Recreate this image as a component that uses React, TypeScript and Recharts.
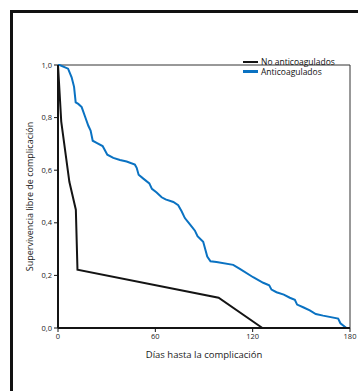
import { LineChart, Line, XAxis, YAxis, ReferenceLine, Legend } from "recharts";

const BLACK = "#141414";
const BLUE = "#0a72c2";
const FONT = "'Open Sans', sans-serif";

const xTicks = [0, 60, 120, 180];
const yTicks = [0, 0.2, 0.4, 0.6, 0.8, 1];

const noAntiDays = [0, 2, 7, 11, 12, 99, 126];
const noAntiSurv = [1, 0.785, 0.556, 0.45, 0.222, 0.115, 0];

const antiDays = [
  0, 1, 6.2, 8.4, 9.9, 10.9, 12.5, 14.6, 16.6, 18.7, 20.1, 21.4, 23.8, 27.5, 29, 30.4,
  34.1, 38.2, 42.3, 47.4, 48.5, 49.7, 52.6, 56.3, 57.9, 60.8, 63.9, 66.3, 71.1, 74.1,
  76.2, 78.2, 81.7, 84.4, 86, 89.5, 91.2, 92, 94, 97.7, 108, 112.1, 120.3, 126.5,
  130.2, 131.6, 134.7, 139.2, 142.9, 146, 147.4, 151.1, 155.2, 158.9, 163.4, 172.7,
  174.1, 177.8,
];
const antiSurv = [
  1, 1, 0.986, 0.953, 0.917, 0.858, 0.852, 0.84, 0.805, 0.769, 0.751, 0.712, 0.704,
  0.692, 0.675, 0.659, 0.647, 0.639, 0.633, 0.621, 0.609, 0.583, 0.568, 0.55, 0.529,
  0.515, 0.497, 0.489, 0.479, 0.467, 0.444, 0.418, 0.391, 0.37, 0.349, 0.328, 0.29,
  0.272, 0.254, 0.251, 0.24, 0.225, 0.193, 0.172, 0.162, 0.146, 0.136, 0.127, 0.115,
  0.107, 0.089, 0.079, 0.067, 0.053, 0.047, 0.036, 0.018, 0,
];

const series = [
  { name: "No anticoagulados", color: BLACK, data: noAntiDays.map((d, i) => ({ day: d, s: noAntiSurv[i] })) },
  { name: "Anticoagulados", color: BLUE, data: antiDays.map((d, i) => ({ day: d, s: antiSurv[i] })) },
];

const fmt = (v: number) => v.toFixed(1).replace(".", ",");

function LegendBox() {
  return (
    <div style={{ fontFamily: FONT, fontSize: 8.5, color: "#111", lineHeight: "9.5px" }}>
      {series.map((s) => (
        <div key={s.name} style={{ display: "flex", alignItems: "center", whiteSpace: "nowrap" }}>
          <span style={{ display: "inline-block", width: 15, height: 2.5, background: s.color, marginRight: 3 }} />
          {s.name}
        </div>
      ))}
    </div>
  );
}

export default function App() {
  return (
    <div style={{ position: "absolute", left: 0, top: 0, width: 358, height: 391, overflow: "hidden", background: "#fff" }}>
      <div
        style={{
          position: "absolute",
          left: 10,
          top: 10,
          width: 400,
          height: 420,
          border: "3px solid #111",
          boxSizing: "border-box",
        }}
      />
      <div style={{ position: "absolute", left: 0, top: 0 }}>
        <LineChart width={358} height={391} margin={{ top: 46, right: 8, bottom: 43, left: 28 }}>
          <XAxis
            dataKey="day"
            type="number"
            domain={[0, 180]}
            ticks={xTicks}
            allowDuplicatedCategory={false}
            height={20}
            axisLine={{ stroke: BLACK, strokeWidth: 2 }}
            tickLine={{ stroke: BLACK }}
            tickSize={4}
            tick={{ fontSize: 7.5, fill: "#222", fontFamily: FONT }}
            label={{ value: "Días hasta la complicación", position: "bottom", offset: 3, fill: "#1a1a1a", fontSize: 9.5, fontFamily: FONT }}
          />
          <YAxis
            dataKey="s"
            type="number"
            domain={[0, 1]}
            ticks={yTicks}
            width={30}
            axisLine={{ stroke: BLACK, strokeWidth: 2 }}
            tickLine={{ stroke: BLACK }}
            tickSize={4}
            tickFormatter={fmt}
            tick={{ fontSize: 7.5, fill: "#222", fontFamily: FONT }}
            label={{
              value: "Supervivencia libre de complicación",
              angle: -90,
              position: "left",
              offset: -2,
              fill: "#1a1a1a",
              fontSize: 9,
              fontFamily: FONT,
              style: { textAnchor: "middle" },
            }}
          />
          <ReferenceLine y={1} stroke="#333" strokeWidth={1} />
          <ReferenceLine x={180} stroke="#333" strokeWidth={1} />
          <Legend
            verticalAlign="top"
            align="left"
            wrapperStyle={{ top: 57, left: 243, width: "auto" }}
            content={() => <LegendBox />}
          />
          {series.map((s) => (
            <Line
              key={s.name}
              data={s.data}
              dataKey="s"
              name={s.name}
              type="linear"
              stroke={s.color}
              strokeWidth={2}
              dot={false}
              isAnimationActive={false}
            />
          ))}
        </LineChart>
      </div>
    </div>
  );
}
